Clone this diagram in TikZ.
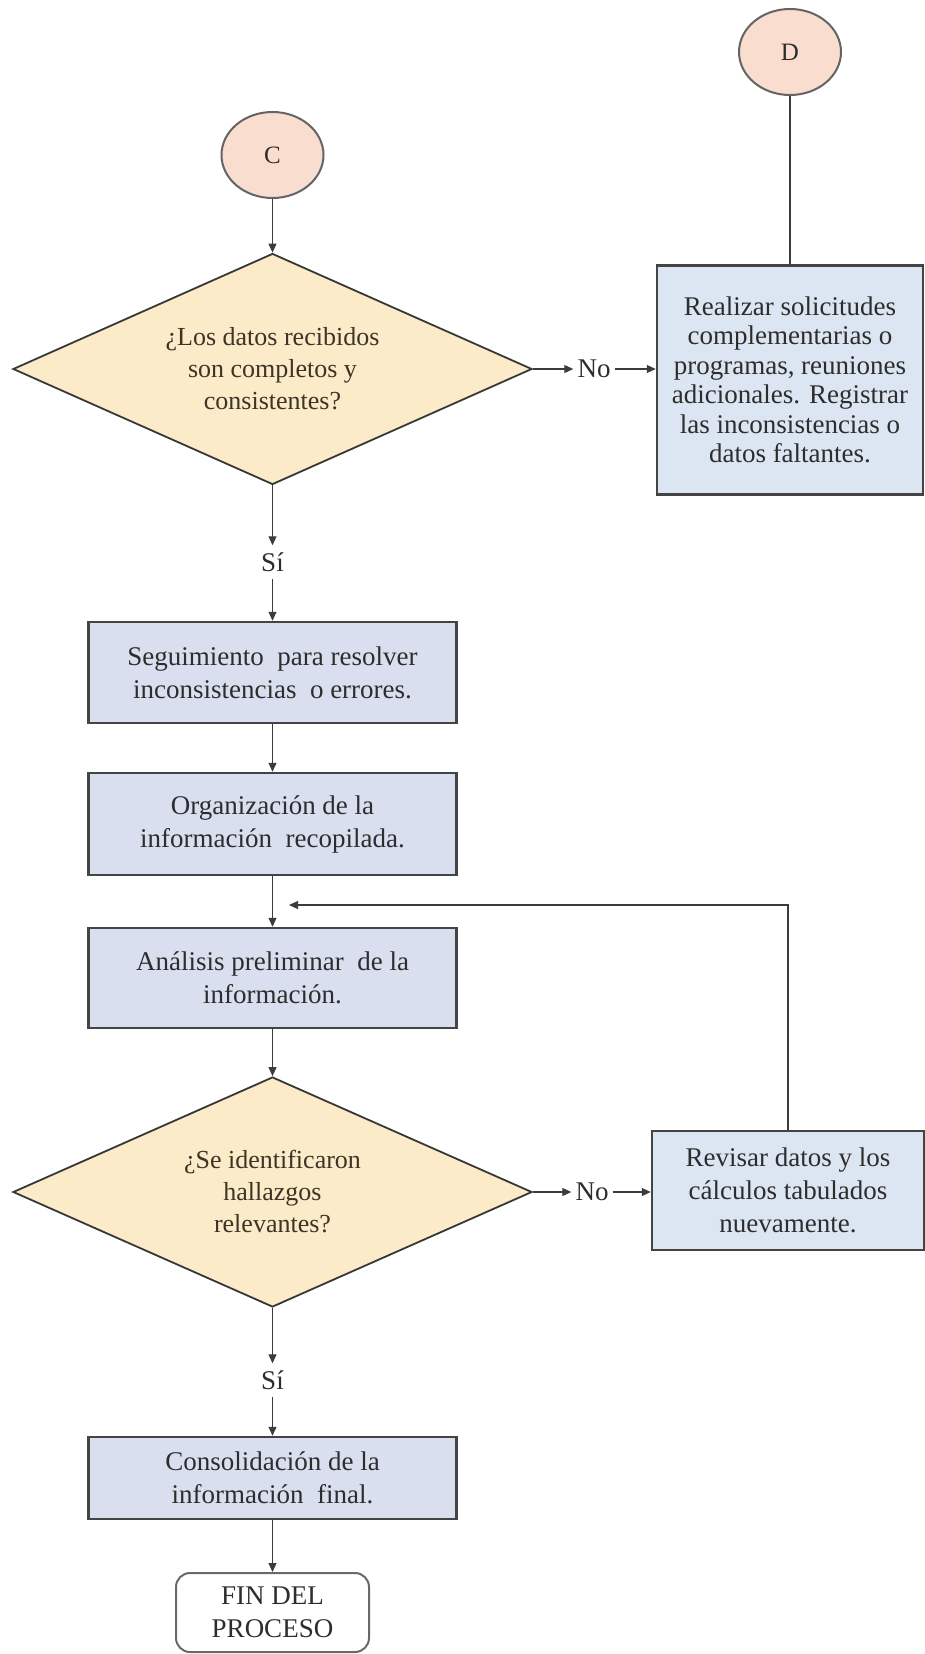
\documentclass[tikz,border=0pt]{standalone}
\usepackage{fontspec}
\setmainfont{Liberation Serif}
\usetikzlibrary{shapes.geometric,arrows.meta}

\definecolor{procfill}{RGB}{218,223,240}
\definecolor{sidefill}{RGB}{220,230,242}
\definecolor{decfill}{RGB}{252,235,200}
\definecolor{connfill}{RGB}{249,222,208}
\definecolor{boxline}{RGB}{68,68,68}
\definecolor{decline}{RGB}{55,55,55}
\definecolor{circline}{RGB}{100,100,100}
\definecolor{endline}{RGB}{105,105,105}
\definecolor{lnk}{RGB}{60,60,60}
\definecolor{txtcol}{RGB}{45,45,45}
\definecolor{dectext}{RGB}{60,52,38}

\begin{document}
\begin{tikzpicture}[x=1pt,y=-1pt,
  every node/.style={font=\fontsize{27}{33}\selectfont, text=txtcol},
  conn/.style={ellipse, draw=circline, line width=2pt, fill=connfill,
    minimum width=102pt, minimum height=86pt, inner sep=0pt,
    font=\fontsize{25}{30}\selectfont},
  procbox/.style={rectangle, draw=boxline, line width=2.5pt, fill=procfill,
    align=center, minimum width=368pt, inner sep=0pt},
  sidebox/.style={rectangle, draw=boxline, line width=2.5pt, fill=sidefill,
    align=center, inner sep=0pt},
  decision/.style={diamond, aspect=2.25, draw=decline, line width=1.8pt,
    fill=decfill, align=center, minimum width=519pt, minimum height=231pt,
    inner sep=0pt, text=dectext, font=\fontsize{26}{32}\selectfont},
  endbox/.style={rectangle, rounded corners=14pt, draw=endline, line width=2pt,
    fill=white, align=center, minimum width=193pt, minimum height=79pt,
    inner sep=0pt},
  lbl/.style={inner xsep=4pt, inner ysep=7pt},
  ln/.style={draw=lnk, line width=1.1pt},
  arr/.style={draw=lnk, line width=1.1pt, -{Triangle[length=9pt,width=8pt]}},
]
% page frame
\fill[white] (0,0) rectangle (925,1654);
\useasboundingbox (0,0) rectangle (925,1654);

% connectors to other pages
\node[conn] (C) at (272.5,155) {C};
\node[conn] (D) at (790,52) {D};

% first decision and its "No" branch
\node[decision] (d1) at (272.5,369)
  {¿Los datos recibidos\\son completos y\\consistentes?};
\node[sidebox, minimum width=266pt, minimum height=229pt,
  font=\fontsize{27}{29.5}\selectfont] (req) at (790,380)
  {Realizar solicitudes\\complementarias o\\programas, reuniones\\adicionales. Registrar\\las inconsistencias o\\datos faltantes.};
\node[lbl] (no1) at (594,369) {No};

% main column
\node[lbl] (si1) at (272.5,562) {Sí};
\node[procbox, minimum height=101pt] (seg) at (272.5,672.5)
  {Seguimiento\ \ para resolver\\inconsistencias\ \ o errores.};
\node[procbox, minimum height=102pt] (org) at (272.5,824)
  {Organización de la\\información\ \ recopilada.};
\node[procbox, minimum height=100pt] (ana) at (272.5,978)
  {Análisis preliminar\ \ de la\\información.};

% second decision and its "No" branch
\node[decision, minimum height=230pt] (d2) at (272.5,1192)
  {¿Se identificaron\\hallazgos\\relevantes?};
\node[sidebox, minimum width=272pt, minimum height=119pt] (rev) at (788,1190.5)
  {Revisar datos y los\\cálculos tabulados\\nuevamente.};
\node[lbl] (no2) at (592,1192) {No};

% closing steps
\node[lbl] (si2) at (272.5,1380) {Sí};
\node[procbox, minimum height=82pt] (con) at (272.5,1478)
  {Consolidación de la\\información\ \ final.};
\node[endbox] (fin) at (272.5,1612.5) {FIN DEL\\PROCESO};

% return point of the review loop
\coordinate (back) at (289,905);

% connections
\draw[arr] (C) -- (d1);
\draw[ln] (D) -- (req);
\draw[arr] (d1.east) -- (no1.west);
\draw[arr] (no1.east) -- (no1.east -| req.west);
\draw[arr] (d1.south) -- (si1.north);
\draw[arr] (si1.south) -- (seg.north);
\draw[arr] (seg) -- (org);
\draw[arr] (org) -- (ana);
\draw[arr] (ana) -- (d2);
\draw[arr] (d2.east) -- (no2.west);
\draw[arr] (no2.east) -- (no2.east -| rev.west);
\draw[arr] (rev.north) |- (back);
\draw[arr] (d2.south) -- (si2.north);
\draw[arr] (si2.south) -- (con.north);
\draw[arr] (con) -- (fin);
\end{tikzpicture}
\end{document}
